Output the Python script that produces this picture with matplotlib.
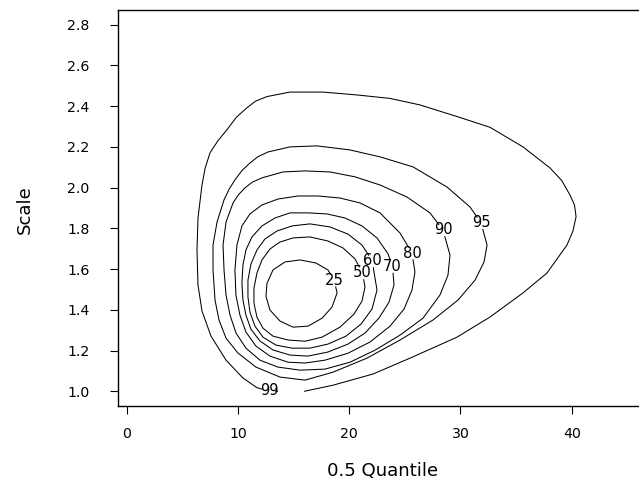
import numpy as np
import matplotlib
matplotlib.use("Agg")
import matplotlib.pyplot as plt
from matplotlib.contour import ContourSet

# confidence levels (%) of the profile-likelihood regions
levels = [25, 50, 60, 70, 80, 90, 95, 99]

# contour outlines (0.5 quantile, scale)
c25_x = [14.95, 16.30, 17.56, 18.45, 18.91, 18.65, 18.09, 17.01, 15.58, 14.23, 13.15, 12.61, 12.52, 12.88, 13.78]
c25_y = [1.315, 1.320, 1.359, 1.413, 1.483, 1.546, 1.596, 1.630, 1.645, 1.635, 1.596, 1.530, 1.467, 1.399, 1.345]

c50_x = [16.03, 17.56, 19.17, 20.43, 21.15, 21.42, 21.20, 20.52, 19.44, 18.09, 16.47, 14.95, 13.78, 12.88,
         12.16, 11.71, 11.44, 11.44, 11.71, 12.25, 13.15, 14.50]
c50_y = [1.246, 1.266, 1.315, 1.379, 1.443, 1.512, 1.581, 1.650, 1.704, 1.738, 1.758, 1.753, 1.733, 1.699,
         1.645, 1.581, 1.507, 1.433, 1.364, 1.310, 1.271, 1.252]

c60_x = [16.47, 18.09, 19.71, 21.06, 22.05, 22.50, 22.23, 22.09, 21.15, 19.89, 18.27, 16.47, 14.86, 13.51,
         12.43, 11.71, 11.17, 10.90, 10.90, 11.08, 11.53, 12.25, 13.42, 14.86]
c60_y = [1.212, 1.232, 1.271, 1.330, 1.404, 1.497, 1.585, 1.640, 1.718, 1.772, 1.807, 1.822, 1.812, 1.787,
         1.748, 1.694, 1.625, 1.546, 1.463, 1.389, 1.320, 1.266, 1.227, 1.212]

c70_x = [16.30, 18.09, 19.89, 21.42, 22.68, 23.58, 24.03, 23.89, 23.49, 22.50, 21.15, 19.62, 18.00, 16.30,
         14.68, 13.33, 12.16, 11.26, 10.72, 10.45, 10.36, 10.45, 10.72, 11.17, 11.98, 13.15, 14.68]
c70_y = [1.173, 1.193, 1.232, 1.286, 1.360, 1.438, 1.523, 1.613, 1.675, 1.753, 1.812, 1.851, 1.871, 1.876,
         1.876, 1.851, 1.812, 1.758, 1.694, 1.620, 1.532, 1.448, 1.374, 1.305, 1.247, 1.203, 1.178]

c80_x = [16.03, 17.82, 19.89, 21.87, 23.67, 24.93, 25.64, 25.91, 25.64, 24.57, 22.77, 20.97, 19.17, 17.19,
         15.40, 13.60, 12.16, 11.08, 10.36, 9.91, 9.73, 9.82, 10.18, 10.72, 11.62, 12.88, 14.50]
c80_y = [1.139, 1.153, 1.187, 1.242, 1.320, 1.404, 1.497, 1.586, 1.679, 1.777, 1.876, 1.925, 1.949, 1.959,
         1.959, 1.944, 1.915, 1.871, 1.812, 1.718, 1.596, 1.473, 1.374, 1.291, 1.222, 1.173, 1.143]

c90_x = [15.58, 17.82, 20.07, 22.32, 24.57, 26.63, 28.16, 28.88, 29.06, 28.43, 27.26, 25.19, 22.77, 20.52,
         18.27, 16.03, 14.05, 12.16, 11.30, 10.63, 10.05, 9.56, 8.93, 8.66, 8.75, 8.93, 9.29, 9.83, 10.72,
         11.98, 13.60]
c90_y = [1.104, 1.109, 1.143, 1.202, 1.276, 1.359, 1.473, 1.571, 1.669, 1.792, 1.876, 1.954, 2.013, 2.053,
         2.077, 2.082, 2.077, 2.048, 2.027, 1.999, 1.965, 1.925, 1.831, 1.718, 1.596, 1.473, 1.374, 1.286, 1.212,
         1.153, 1.119]

c95_x = [16.03, 18.54, 21.60, 24.57, 27.53, 29.78, 31.31, 32.12, 32.39, 31.85, 30.86, 28.79, 25.73, 22.77,
         20.07, 17.10, 14.68, 12.70, 11.80, 11.08, 10.35, 9.73, 9.20, 8.75, 8.12, 7.76, 7.76, 7.94, 8.30,
         8.93, 10.00, 11.62, 13.78]
c95_y = [1.055, 1.094, 1.163, 1.252, 1.350, 1.448, 1.546, 1.635, 1.718, 1.827, 1.905, 2.003, 2.102, 2.151,
         2.185, 2.205, 2.200, 2.175, 2.152, 2.121, 2.083, 2.038, 1.992, 1.940, 1.831, 1.718, 1.596, 1.448, 1.350,
         1.261, 1.188, 1.119, 1.070]

# the 99% region runs off the bottom of the grid, so it stays open
c99_x = [15.94, 18.54, 22.14, 25.47, 29.69, 32.66, 35.62, 37.78, 39.57, 40.10, 40.39, 40.25, 39.84, 39.10,
         38.04, 35.62, 32.66, 29.69, 26.36, 23.67, 20.70, 17.64, 14.68, 12.61, 11.60, 10.81, 9.85, 9.01, 8.20,
         7.49, 7.05, 6.77, 6.41, 6.32, 6.41, 6.77, 7.58, 8.93, 10.46, 11.71, 12.79, 13.60]
c99_y = [1.000, 1.030, 1.085, 1.163, 1.266, 1.365, 1.483, 1.581, 1.718, 1.785, 1.857, 1.915, 1.964, 2.035,
         2.097, 2.200, 2.296, 2.349, 2.406, 2.438, 2.455, 2.469, 2.469, 2.447, 2.425, 2.392, 2.345, 2.284, 2.230,
         2.171, 2.095, 2.013, 1.851, 1.694, 1.522, 1.394, 1.271, 1.153, 1.065, 1.018, 1.002, 1.000]

# where each level's label sits on its line
label_x = [18.65, 21.20, 22.09, 23.89, 25.64, 28.43, 31.85, 12.79]
label_y = [1.546, 1.581, 1.640, 1.613, 1.679, 1.792, 1.827, 1.002]

x_ticks = [0, 10, 20, 30, 40]
y_ticks = [1.0, 1.2, 1.4, 1.6, 1.8, 2.0, 2.2, 2.4, 2.6, 2.8]

fig = plt.figure(figsize=(6.39, 4.83), dpi=100)
ax = fig.add_axes([0.18466, 0.15942, 0.8368, 0.81988])
ax.set_xlim(-0.78, 47.28)
ax.set_ylim(0.928, 2.872)

outlines = [(c25_x, c25_y, True), (c50_x, c50_y, True), (c60_x, c60_y, True), (c70_x, c70_y, True),
            (c80_x, c80_y, True), (c90_x, c90_y, True), (c95_x, c95_y, True), (c99_x, c99_y, False)]
allsegs = []
for xs, ys, closed in outlines:
    pts = np.column_stack([xs, ys])
    if closed:
        pts = np.vstack([pts, pts[:1]])
    allsegs.append([pts])

cs = ContourSet(ax, levels, allsegs, colors="black", linewidths=0.75)
texts = ax.clabel(cs, fmt="%d", fontsize=10.6, inline=True, inline_spacing=-3,
                  manual=list(zip(label_x, label_y)))
for t in texts:
    t.set_rotation(0)

ax.spines["right"].set_visible(False)
for s in ["left", "bottom", "top"]:
    ax.spines[s].set_linewidth(1.0)

ax.set_xticks(x_ticks)
ax.set_xticklabels([str(v) for v in x_ticks])
ax.set_yticks(y_ticks)
ax.set_yticklabels(["%.1f" % v for v in y_ticks])
ax.tick_params(direction="out", length=6, width=0.8, labelsize=10.2, colors="black")
ax.tick_params(axis="y", pad=14.4)
ax.tick_params(axis="x", pad=9.4)

ax.set_xlabel("0.5 Quantile", fontsize=13.1)
ax.xaxis.set_label_coords(0.494, -0.1414)
ax.set_ylabel("Scale", fontsize=13.1, va="center")
ax.yaxis.set_label_coords(-0.1749, 0.497)

fig.savefig("out.png", dpi=100)
